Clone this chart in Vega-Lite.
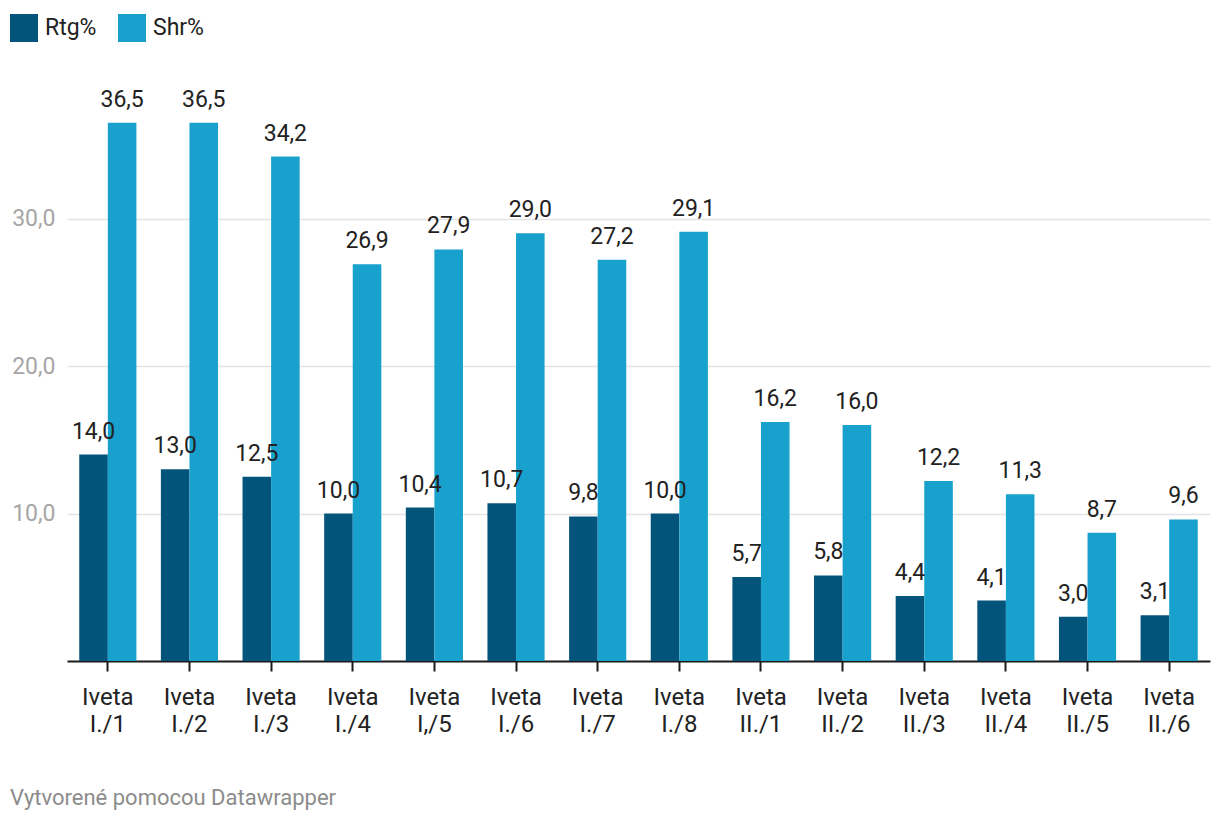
{
  "$schema": "https://vega.github.io/schema/vega-lite/v6.json",
  "width": 1143,
  "height": 590,
  "autosize": "none",
  "padding": {"left": 67, "top": 71, "right": 10, "bottom": 161},
  "background": "#ffffff",
  "config": {
    "locale": {"number": {"decimal": ",", "thousands": " ", "grouping": [3], "currency": ["", ""]}},
    "font": "Roboto",
    "view": {"stroke": null}
  },
  "title": {
    "text": "Vytvorené pomocou Datawrapper",
    "orient": "bottom",
    "anchor": "start",
    "frame": "group",
    "dx": -57,
    "offset": 52,
    "baseline": "top",
    "font": "Roboto",
    "fontSize": 22,
    "fontWeight": "normal",
    "color": "#8c8c8c"
  },
  "data": {
    "values": [
      {"epizoda": "Iveta I./1", "serie": "Rtg%", "hodnota": 14.0},
      {"epizoda": "Iveta I./1", "serie": "Shr%", "hodnota": 36.5},
      {"epizoda": "Iveta I./2", "serie": "Rtg%", "hodnota": 13.0},
      {"epizoda": "Iveta I./2", "serie": "Shr%", "hodnota": 36.5},
      {"epizoda": "Iveta I./3", "serie": "Rtg%", "hodnota": 12.5},
      {"epizoda": "Iveta I./3", "serie": "Shr%", "hodnota": 34.2},
      {"epizoda": "Iveta I./4", "serie": "Rtg%", "hodnota": 10.0},
      {"epizoda": "Iveta I./4", "serie": "Shr%", "hodnota": 26.9},
      {"epizoda": "Iveta I,/5", "serie": "Rtg%", "hodnota": 10.4},
      {"epizoda": "Iveta I,/5", "serie": "Shr%", "hodnota": 27.9},
      {"epizoda": "Iveta I./6", "serie": "Rtg%", "hodnota": 10.7},
      {"epizoda": "Iveta I./6", "serie": "Shr%", "hodnota": 29.0},
      {"epizoda": "Iveta I./7", "serie": "Rtg%", "hodnota": 9.8},
      {"epizoda": "Iveta I./7", "serie": "Shr%", "hodnota": 27.2},
      {"epizoda": "Iveta I./8", "serie": "Rtg%", "hodnota": 10.0},
      {"epizoda": "Iveta I./8", "serie": "Shr%", "hodnota": 29.1},
      {"epizoda": "Iveta II./1", "serie": "Rtg%", "hodnota": 5.7},
      {"epizoda": "Iveta II./1", "serie": "Shr%", "hodnota": 16.2},
      {"epizoda": "Iveta II./2", "serie": "Rtg%", "hodnota": 5.8},
      {"epizoda": "Iveta II./2", "serie": "Shr%", "hodnota": 16.0},
      {"epizoda": "Iveta II./3", "serie": "Rtg%", "hodnota": 4.4},
      {"epizoda": "Iveta II./3", "serie": "Shr%", "hodnota": 12.2},
      {"epizoda": "Iveta II./4", "serie": "Rtg%", "hodnota": 4.1},
      {"epizoda": "Iveta II./4", "serie": "Shr%", "hodnota": 11.3},
      {"epizoda": "Iveta II./5", "serie": "Rtg%", "hodnota": 3.0},
      {"epizoda": "Iveta II./5", "serie": "Shr%", "hodnota": 8.7},
      {"epizoda": "Iveta II./6", "serie": "Rtg%", "hodnota": 3.1},
      {"epizoda": "Iveta II./6", "serie": "Shr%", "hodnota": 9.6}
    ]
  },
  "encoding": {
    "x": {
      "field": "epizoda",
      "type": "nominal",
      "sort": null,
      "scale": {"paddingInner": 0.3, "paddingOuter": 0.15},
      "axis": {
        "title": null,
        "labelAngle": 0,
        "labelExpr": "split(datum.label, ' ')",
        "labelFont": "Roboto",
        "labelFontSize": 24,
        "labelColor": "#222222",
        "labelLineHeight": 27,
        "labelPadding": 14,
        "labelBaseline": "top",
        "domainColor": "#1a1a1a",
        "domainWidth": 2,
        "tickColor": "#1a1a1a",
        "tickWidth": 2,
        "tickSize": 10,
        "grid": false
      }
    },
    "xOffset": {"field": "serie", "type": "nominal", "scale": {"paddingInner": 0, "paddingOuter": 0}},
    "y": {
      "field": "hodnota",
      "type": "quantitative",
      "scale": {"domain": [0, 40], "nice": false},
      "axis": {
        "title": null,
        "values": [10, 20, 30],
        "format": ".1f",
        "labelFont": "Roboto",
        "labelFontSize": 23,
        "labelColor": "#a6a6a6",
        "labelPadding": 12,
        "ticks": false,
        "domain": false,
        "gridColor": "#e3e3e3",
        "gridWidth": 1.5
      }
    }
  },
  "layer": [
    {
      "mark": {"type": "bar", "cornerRadius": 0},
      "encoding": {
        "color": {
          "field": "serie",
          "type": "nominal",
          "scale": {"domain": ["Rtg%", "Shr%"], "range": ["#02547b", "#18a1cd"]},
          "legend": {
            "title": null,
            "orient": "none",
            "legendX": -57,
            "legendY": -57,
            "direction": "horizontal",
            "symbolType": "square",
            "symbolSize": 784,
            "symbolStrokeWidth": 0,
            "symbolOpacity": 1,
            "labelFont": "Roboto",
            "labelFontSize": 23,
            "labelColor": "#222222",
            "labelOffset": 7,
            "columnPadding": 21,
            "padding": 0
          }
        }
      }
    },
    {
      "mark": {"type": "text", "baseline": "alphabetic", "dy": -16, "font": "Roboto", "fontSize": 23, "color": "#222222"},
      "encoding": {
        "text": {"field": "hodnota", "type": "quantitative", "format": ".1f"}
      }
    }
  ]
}
